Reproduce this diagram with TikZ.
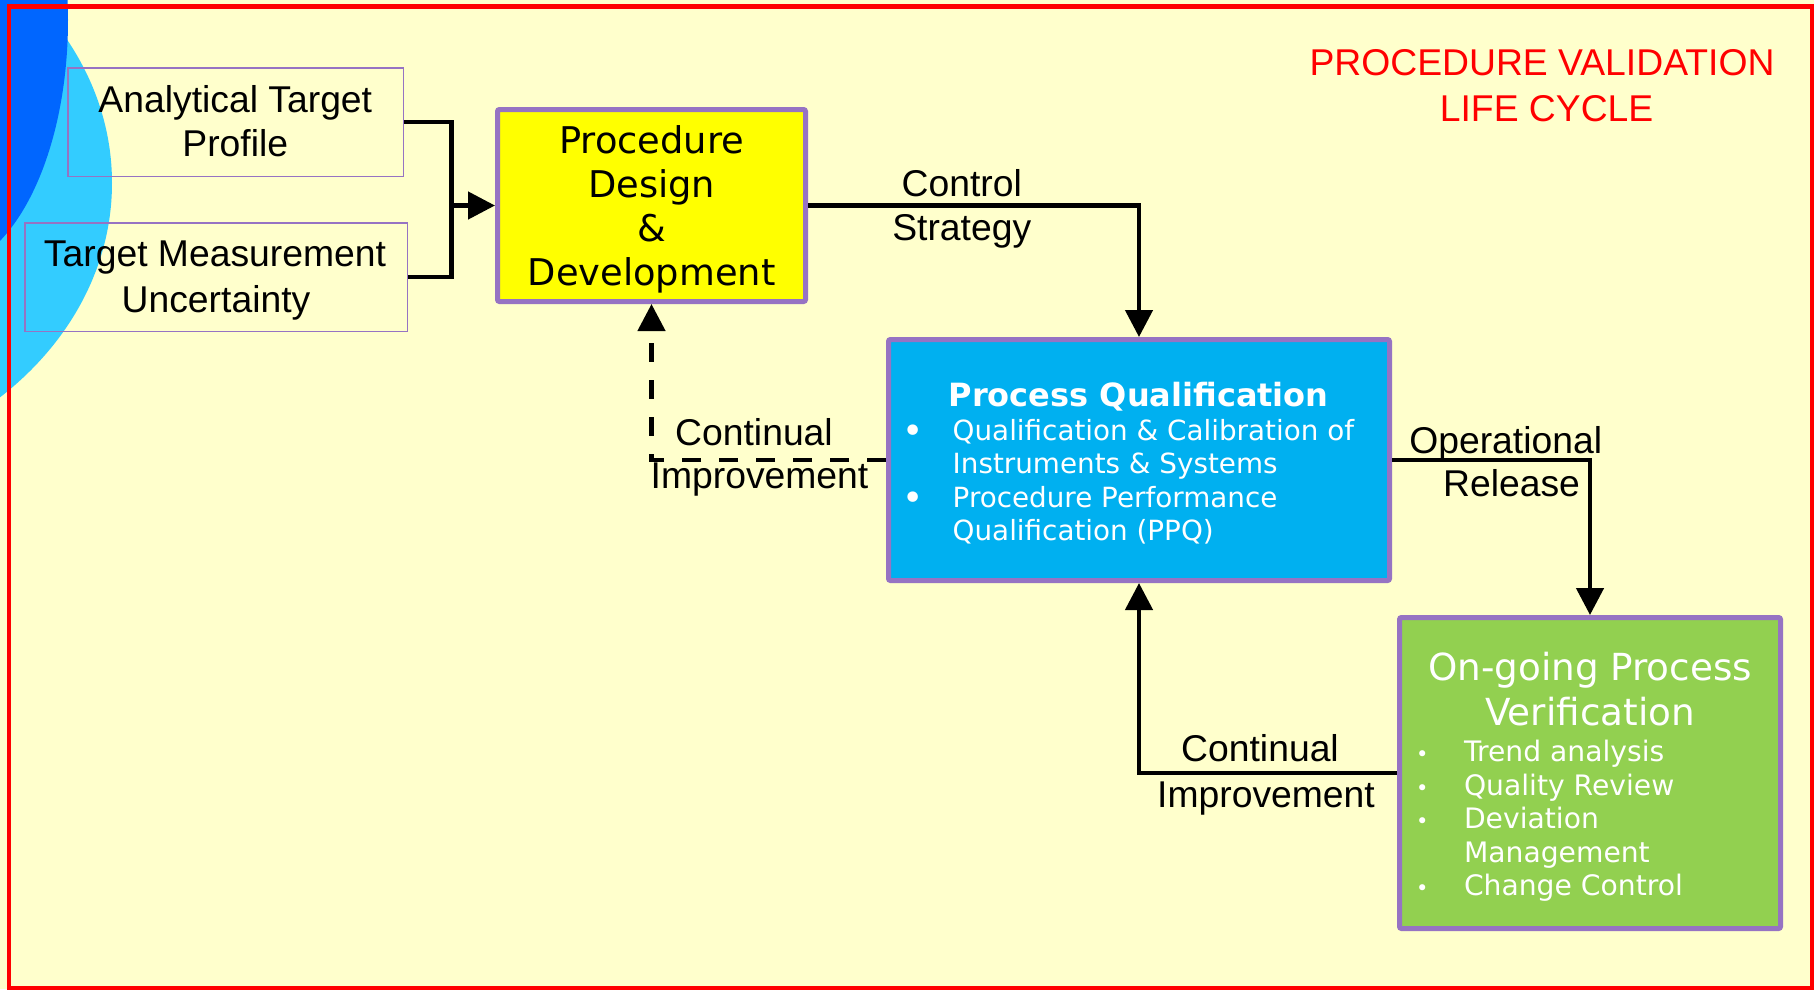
\documentclass[tikz,border=0pt]{standalone}
\usepackage{fontspec}
\usetikzlibrary{arrows.meta}
\newfontfamily\boxfont{DejaVu Sans}
\newfontfamily\labelfont{Liberation Sans}
\definecolor{paper}{HTML}{FFFFCC}
\definecolor{frame}{HTML}{FF0000}
\definecolor{deepblue}{HTML}{0066FF}
\definecolor{skyblue}{HTML}{33CCFF}
\definecolor{boxline}{RGB}{150,115,195}
\definecolor{pddfill}{HTML}{FFFF00}
\definecolor{pqfill}{HTML}{00B0F0}
\definecolor{opvfill}{HTML}{92D050}
% bullets for the two lists
\newcommand\pqdot{\makebox[0pt]{\fontsize{36}{36}\selectfont\raisebox{-3.5pt}{•}}}
\newcommand\opvdot{\makebox[0pt]{\fontsize{21}{21}\selectfont•}}
\begin{document}
\begin{tikzpicture}[x=1pt,y=-1pt,
  box/.style={draw=boxline, line width=5pt, rounded corners=2pt},
  thinbox/.style={draw=boxline, line width=1.5pt},
  txt/.style={inner sep=0pt, outer sep=0pt},
  lab/.style={txt, font=\labelfont\fontsize{37.3}{44}\selectfont},
  wire/.style={line width=4.6pt},
  flow/.style={wire, -{Triangle[length=27pt,width=27pt]}}]
\useasboundingbox (0,0) rectangle (1814,989);
\fill[paper] (0,0) rectangle (1814,989);
% decorative discs in the corner
\begin{scope}
  \clip (0,0) rectangle (1814,989);
  \fill[skyblue] (-240,183) ellipse [x radius=352, y radius=293];
  \fill[deepblue] (-60,20) ellipse [x radius=128, y radius=250];
\end{scope}
\draw[frame, line width=4.5pt] (9.2,6.7) rectangle (1812.5,988.5);

% input boxes
\node[thinbox, minimum width=335.5pt, minimum height=108.5pt] (atp) at (235.5,122) {};
\node[thinbox, minimum width=382.5pt, minimum height=108.5pt] (tmu) at (216,277) {};
% stage boxes
\node[box, fill=pddfill, minimum width=308pt, minimum height=192pt] (pdd) at (651.5,205.5) {};
\node[box, fill=pqfill, minimum width=501pt, minimum height=241pt] (pq) at (1139,460) {};
\node[box, fill=opvfill, minimum width=381pt, minimum height=311pt] (opv) at (1590,773) {};

% connectors
\path (pdd.west) ++(-43.5,0) coordinate (join);
\draw[wire] (atp.east) -| (join);
\draw[wire] (tmu.east) -| (join);
\draw[flow] (join) -- (pdd.west);
\draw[flow] (pdd.east) -| (pq.north);
\draw[flow] (pq.east) -| (opv.north);
\draw[flow] (opv.west) -| (pq.south);
\draw[flow, dash pattern=on 19pt off 18pt] (pq.west) -| (pdd.south);

% title
\node[lab, text=frame, anchor=base, font=\labelfont\fontsize{37.3}{46}\selectfont] (title) at (1546.6,75.6)
  {\begin{tabular}[t]{@{}c@{}}PROCEDURE VALIDATION\hspace*{9.2pt}\\LIFE CYCLE\end{tabular}};

% input labels
\node[lab, anchor=base] (atp-text) at (235.3,112.7)
  {\begin{tabular}[t]{@{}c@{}}Analytical Target\\Profile\end{tabular}};
\node[lab, anchor=base] (tmu-text) at (216,266.7)
  {\begin{tabular}[t]{@{}c@{}}Target Measurement\hspace*{2pt}\\[1.6pt]Uncertainty\end{tabular}};

% connector labels
\node[lab, anchor=base] (cs-text) at (961.7,196.7)
  {\begin{tabular}[t]{@{}c@{}}Control\\Strategy\end{tabular}};
\node[lab, anchor=base] (or-text) at (1511.5,453.3)
  {\begin{tabular}[t]{@{}c@{}}Operational\hspace*{11.6pt}\\[-0.6pt]Release\end{tabular}};
\node[lab, anchor=base] (ci1-text) at (759.5,445.7)
  {\begin{tabular}[t]{@{}c@{}}Continual\hspace*{11pt}\\[-1.7pt]Improvement\end{tabular}};
\node[lab, anchor=base] (ci2-text) at (1266,761.7)
  {\begin{tabular}[t]{@{}c@{}}Continual\hspace*{12pt}\\[1.3pt]Improvement\end{tabular}};

% stage texts
\node[txt, anchor=base, font=\boxfont\fontsize{36.8}{44.2}\selectfont] (pdd-text) at (651.7,153.3)
  {\begin{tabular}[t]{@{}c@{}}Procedure\\Design\\\&\\Development\end{tabular}};

\node[txt, anchor=base, text=white, font=\boxfont\bfseries\fontsize{32}{38}\selectfont] (pq-title) at (1138.7,406)
  {Process Qualification};
\node[txt, anchor=base west, text=white, font=\boxfont\fontsize{27.8}{33.6}\selectfont] (pq-list) at (913.3,440)
  {\begin{tabular}[t]{@{}l@{}}
   \pqdot\hspace{39.4pt}Qualification \& Calibration of\\
   \hspace{39.4pt}Instruments \& Systems\\
   \pqdot\hspace{39.4pt}Procedure Performance\\
   \hspace{39.4pt}Qualification (PPQ)
   \end{tabular}};

\node[txt, anchor=base, text=white, font=\boxfont\fontsize{37.3}{44.3}\selectfont] (opv-title) at (1590,680.7)
  {\begin{tabular}[t]{@{}c@{}}On-going Process\\Verification\end{tabular}};
\node[txt, anchor=base west, text=white, font=\boxfont\fontsize{28.2}{33.5}\selectfont] (opv-list) at (1422.3,761.7)
  {\begin{tabular}[t]{@{}l@{}}
   \opvdot\hspace{41.7pt}Trend analysis\\
   \opvdot\hspace{41.7pt}Quality Review\\
   \opvdot\hspace{41.7pt}Deviation\\
   \hspace{41.7pt}Management\\
   \opvdot\hspace{41.7pt}Change Control
   \end{tabular}};
\end{tikzpicture}
\end{document}
